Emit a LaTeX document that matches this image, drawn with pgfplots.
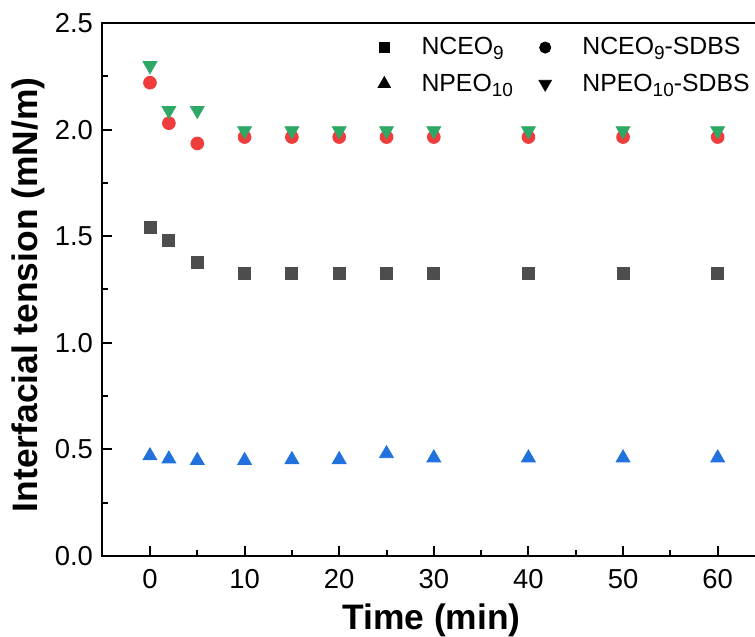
\documentclass[border=0pt]{standalone}
\usepackage{fontspec}
\setmainfont{Liberation Sans}
\usepackage{pgfplots}
\pgfplotsset{compat=1.18}
\definecolor{cgray}{HTML}{4D4D4D}
\definecolor{cred}{HTML}{EF3D3D}
\definecolor{cgreen}{HTML}{2EA866}
\definecolor{cblue}{HTML}{2272DD}
\newcommand{\sub}[1]{\raisebox{-0.4ex}{\fontsize{9.5}{10}\selectfont #1}}
\begin{document}
\begin{tikzpicture}
\begin{axis}[
  scale only axis,
  width=329.5pt, height=266.5pt,
  xmin=-5.07, xmax=64.58,
  ymin=0, ymax=2.5,
  axis line style={line width=1.4pt},
  xtick={0,10,...,60},
  ytick={0,0.5,...,2.5},
  minor xtick={5,15,...,55},
  minor ytick={0.25,0.75,...,2.25},
  tick align=inside,
  major tick length=5pt,
  minor tick length=3pt,
  every tick/.style={line width=1pt, black},
  xtick pos=bottom,
  ytick pos=left,
  /pgf/number format/assume math mode=true,
  /pgf/number format/.cd, fixed, fixed zerofill, precision=1, /pgfplots/.cd,
  xticklabel={\pgfmathprintnumber[fixed,precision=0,fixed zerofill=false]{\tick}},
  tick label style={font=\fontsize{13.7}{15}\selectfont},
  yticklabel style={xshift=-1pt},
  xticklabel style={yshift=-3pt},
  xlabel={\textbf{Time (min)}},
  ylabel={\textbf{Interfacial tension (mN/m)}},
  label style={font=\fontsize{17.7}{19}\selectfont},
  xlabel style={at={(axis description cs:0.5,0)}, anchor=base, yshift=-37pt},
  ylabel style={at={(axis description cs:-0.1123,0.49)}, anchor=center},
  legend columns=2,
  legend style={draw=none, fill=none, at={(axis cs:63.95,2.5)}, anchor=north east,
    font=\fontsize{12.4}{14}\selectfont, xshift=2.5pt, yshift=-3pt,
    /tikz/every odd column/.append style={column sep=13.5pt},
    /tikz/every even column/.append style={column sep=11pt},
    row sep=4pt},
  legend cell align=left,
]
\addlegendimage{only marks, mark=square*, mark size=2.6pt, black}
\addlegendentry{NCEO\sub{9}}
\addlegendimage{only marks, mark=*, mark size=2.8pt, black}
\addlegendentry{NCEO\sub{9}-SDBS}
\addlegendimage{only marks, mark=triangle*, mark size=3.6pt, black}
\addlegendentry{NPEO\sub{10}}
\addlegendimage{only marks, mark=triangle*, mark options={rotate=180}, mark size=3.6pt, black}
\addlegendentry{NPEO\sub{10}-SDBS}

\addplot[only marks, mark=square*, mark size=3pt, color=cgray, forget plot] coordinates {
(0,1.54) (2,1.48) (5,1.375) (10,1.325) (15,1.325) (20,1.325) (25,1.325) (30,1.325) (40,1.325) (50,1.325) (60,1.325)};
\addplot[only marks, mark=*, mark size=3.2pt, color=cred, forget plot] coordinates {
(0,2.22) (2,2.03) (5,1.935) (10,1.965) (15,1.965) (20,1.965) (25,1.965) (30,1.965) (40,1.965) (50,1.965) (60,1.965)};
\addplot[only marks, mark=triangle*, mark size=4pt, color=cblue, forget plot] coordinates {
(0,0.47) (2,0.455) (5,0.448) (10,0.448) (15,0.452) (20,0.452) (25,0.48) (30,0.46) (40,0.46) (50,0.46) (60,0.46)};
\addplot[only marks, mark=triangle*, mark options={rotate=180}, mark size=4pt, color=cgreen, forget plot] coordinates {
(0,2.30) (2,2.09) (5,2.09) (10,1.995) (15,1.995) (20,1.995) (25,1.995) (30,1.995) (40,1.995) (50,1.995) (60,1.995)};
\end{axis}
\pgfresetboundingbox
\path ([xshift=-51pt,yshift=-40.5pt]current axis.south west) rectangle ([xshift=-3pt,yshift=11.5pt]current axis.north east);
\end{tikzpicture}
\end{document}
